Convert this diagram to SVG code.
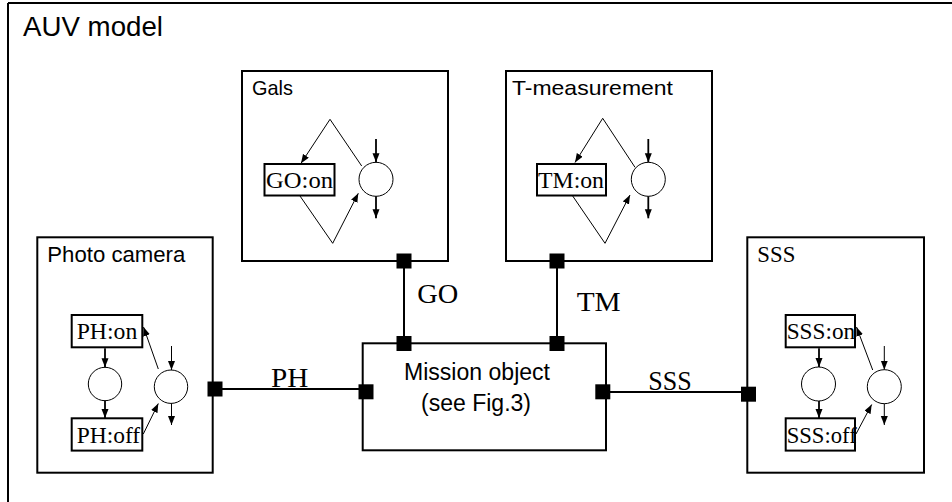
<svg xmlns="http://www.w3.org/2000/svg" width="952" height="502" viewBox="0 0 952 502">
<defs>
<marker id="ah" markerUnits="userSpaceOnUse" markerWidth="10" markerHeight="8" refX="9" refY="3.5" orient="auto">
<path d="M0,0 L9,3.5 L0,7 z" fill="#000"/>
</marker>
<style>
.box{fill:#fff;stroke:#000;stroke-width:2}
.st{fill:#fff;stroke:#000;stroke-width:2}
.pl{fill:#fff;stroke:#000;stroke-width:1}
.ln{fill:none;stroke:#000;stroke-width:1}
.lnb{fill:none;stroke:#000;stroke-width:1.8}
.con{fill:none;stroke:#000;stroke-width:2}
.port{fill:#000}
.sans{font-family:"Liberation Sans",Arial,sans-serif;fill:#000}
.serif{font-family:"Liberation Serif","Times New Roman",serif;fill:#000}
</style>
</defs>
<rect x="0" y="0" width="952" height="502" fill="#fff"/>
<g id="auv-model">
<line x1="8" y1="3" x2="952" y2="3" stroke="#000" stroke-width="2"/>
<line x1="8" y1="3" x2="8" y2="502" stroke="#000" stroke-width="2"/>
<text class="sans" x="23" y="36" font-size="28" textLength="140" lengthAdjust="spacingAndGlyphs">AUV model</text>
</g>
<g id="gals">
<rect class="box" x="242" y="71" width="206" height="190"/>
<text class="sans" x="252" y="95" font-size="21" textLength="41" lengthAdjust="spacingAndGlyphs">Gals</text>
<rect class="st" x="264.5" y="164" width="70" height="31.5"/>
<text class="serif" x="266" y="188.3" font-size="22.5" textLength="67" lengthAdjust="spacingAndGlyphs">GO:on</text>
<circle class="pl" cx="376" cy="179.3" r="17"/>
<polyline class="ln" points="361.7,166 330,119.3 301,163.3" marker-end="url(#ah)"/>
<polyline class="ln" points="300,196 332.7,243.3 358.3,193.3" marker-end="url(#ah)"/>
<line class="lnb" x1="376" y1="139" x2="376" y2="162.3" marker-end="url(#ah)"/>
<line class="lnb" x1="376" y1="196.3" x2="376" y2="218.3" marker-end="url(#ah)"/>
</g>
<g id="t-measurement">
<rect class="box" x="506" y="71" width="206" height="190"/>
<text class="sans" x="512" y="95" font-size="21" textLength="161" lengthAdjust="spacingAndGlyphs">T-measurement</text>
<rect class="st" x="537" y="164" width="69" height="31.5"/>
<text class="serif" x="538" y="188.3" font-size="22.5" textLength="66" lengthAdjust="spacingAndGlyphs">TM:on</text>
<circle class="pl" cx="648.3" cy="179.3" r="17"/>
<polyline class="ln" points="635,167.3 602.7,118.3 575,162.5" marker-end="url(#ah)"/>
<polyline class="ln" points="572.7,196 605,243.3 630,195" marker-end="url(#ah)"/>
<line class="lnb" x1="648.3" y1="139" x2="648.3" y2="162.3" marker-end="url(#ah)"/>
<line class="lnb" x1="648.3" y1="196.3" x2="648.3" y2="218.3" marker-end="url(#ah)"/>
</g>
<g id="photo-camera">
<rect class="box" x="37.3" y="237.3" width="175.4" height="235.4"/>
<text class="sans" x="47.3" y="261.7" font-size="22" textLength="138" lengthAdjust="spacingAndGlyphs">Photo camera</text>
<rect class="st" x="71.7" y="315" width="70.6" height="32.3"/>
<text class="serif" x="76.7" y="339.3" font-size="22.5" textLength="60.6" lengthAdjust="spacingAndGlyphs">PH:on</text>
<rect class="st" x="71.7" y="418.3" width="70.6" height="32.3"/>
<text class="serif" x="76.7" y="442.6" font-size="22.5" textLength="63.5" lengthAdjust="spacingAndGlyphs">PH:off</text>
<circle class="pl" cx="105" cy="384" r="16.7"/>
<circle class="pl" cx="171" cy="386.7" r="16.7"/>
<line class="lnb" x1="105" y1="348.3" x2="105" y2="367.3" marker-end="url(#ah)"/>
<line class="lnb" x1="105" y1="400.7" x2="105" y2="418" marker-end="url(#ah)"/>
<line class="ln" x1="158.3" y1="369" x2="143.5" y2="327" marker-end="url(#ah)"/>
<line class="ln" x1="143.3" y1="434" x2="158.3" y2="403.5" marker-end="url(#ah)"/>
<line class="ln" x1="171.5" y1="346" x2="171.5" y2="370" marker-end="url(#ah)"/>
<line class="ln" x1="171.5" y1="403.4" x2="171.5" y2="425" marker-end="url(#ah)"/>
</g>
<g id="sss">
<rect class="box" x="747.3" y="237.3" width="176.7" height="235.4"/>
<text class="serif" x="757.3" y="261.7" font-size="22.5" textLength="38" lengthAdjust="spacingAndGlyphs">SSS</text>
<rect class="st" x="785.7" y="315" width="69.3" height="32.3"/>
<text class="serif" x="786.7" y="339.3" font-size="22.5" textLength="68.5" lengthAdjust="spacingAndGlyphs">SSS:on</text>
<rect class="st" x="785.7" y="418.3" width="69.3" height="32.3"/>
<text class="serif" x="786.7" y="442.6" font-size="22.5" textLength="70" lengthAdjust="spacingAndGlyphs">SSS:off</text>
<circle class="pl" cx="818.5" cy="384" r="17"/>
<circle class="pl" cx="884.3" cy="386.7" r="17"/>
<line class="lnb" x1="819" y1="348.3" x2="819" y2="367" marker-end="url(#ah)"/>
<line class="lnb" x1="819" y1="401" x2="819" y2="418" marker-end="url(#ah)"/>
<line class="ln" x1="872.7" y1="370" x2="856.5" y2="327" marker-end="url(#ah)"/>
<line class="ln" x1="856" y1="434" x2="871.7" y2="404.5" marker-end="url(#ah)"/>
<line class="ln" x1="884.3" y1="346" x2="884.3" y2="369.7" marker-end="url(#ah)"/>
<line class="ln" x1="884.3" y1="403.7" x2="884.3" y2="425" marker-end="url(#ah)"/>
</g>
<g id="mission-object">
<rect class="box" x="362.7" y="343.3" width="243.3" height="107"/>
<text class="sans" x="404" y="380" font-size="23" textLength="146" lengthAdjust="spacingAndGlyphs">Mission object</text>
<text class="sans" x="421" y="410.5" font-size="23" textLength="110" lengthAdjust="spacingAndGlyphs">(see Fig.3)</text>
</g>
<g id="connectors">
<line class="con" x1="404" y1="261" x2="404" y2="343.5"/>
<line class="con" x1="557" y1="261" x2="557" y2="343.5"/>
<line class="con" x1="215" y1="389" x2="366" y2="389"/>
<line class="con" x1="603" y1="392" x2="749" y2="392"/>
<rect class="port" x="396.5" y="253.5" width="15" height="15"/>
<rect class="port" x="396.5" y="336" width="15" height="15"/>
<rect class="port" x="549.5" y="253.5" width="15" height="15"/>
<rect class="port" x="549.5" y="336" width="15" height="15"/>
<rect class="port" x="207.5" y="381.5" width="15" height="15"/>
<rect class="port" x="358.5" y="384.3" width="15" height="15"/>
<rect class="port" x="595.3" y="384.3" width="15" height="15"/>
<rect class="port" x="741" y="386.7" width="15" height="15"/>
<text class="serif" x="417.3" y="303.3" font-size="27" textLength="41" lengthAdjust="spacingAndGlyphs">GO</text>
<text class="serif" x="576.7" y="310.7" font-size="27" textLength="44" lengthAdjust="spacingAndGlyphs">TM</text>
<text class="serif" x="271" y="386.7" font-size="27" textLength="37.3" lengthAdjust="spacingAndGlyphs">PH</text>
<text class="serif" x="648.3" y="390" font-size="27" textLength="43.4" lengthAdjust="spacingAndGlyphs">SSS</text>
</g>
</svg>
